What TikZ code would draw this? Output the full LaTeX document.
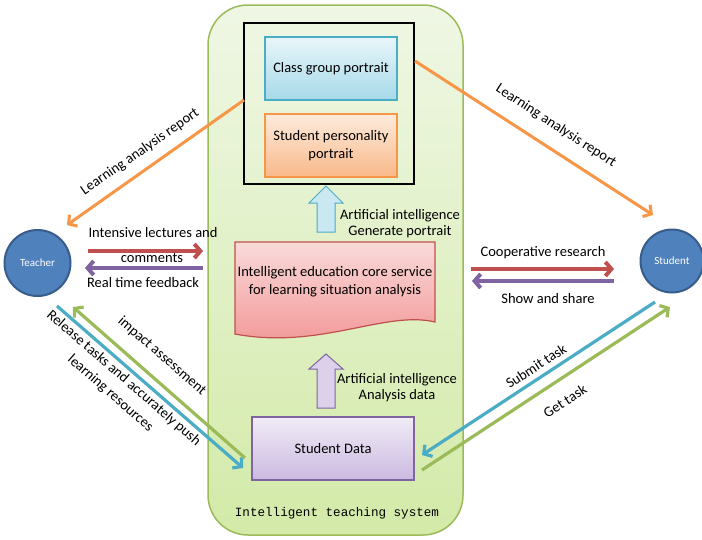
\documentclass[tikz,border=0pt]{standalone}
\usepackage{fontspec}
\setmainfont{Carlito}
\newfontfamily\monofont{Liberation Mono}
\usetikzlibrary{arrows.meta}

\definecolor{sysborder}{HTML}{9BBB59}
\definecolor{systop}{HTML}{EFF7E5}
\definecolor{sysbot}{HTML}{D3EAA8}
\definecolor{clsborder}{HTML}{4BACC6}
\definecolor{clstop}{HTML}{E9F6FA}
\definecolor{clsbot}{HTML}{A6D9E9}
\definecolor{perborder}{HTML}{F79646}
\definecolor{pertop}{HTML}{FDEBDC}
\definecolor{perbot}{HTML}{F9B98A}
\definecolor{docborder}{HTML}{C0504D}
\definecolor{doctop}{HTML}{FADADA}
\definecolor{docbot}{HTML}{F29494}
\definecolor{datborder}{HTML}{8064A2}
\definecolor{dattop}{HTML}{F1ECF7}
\definecolor{datbot}{HTML}{CBB9E0}
\definecolor{roleFill}{HTML}{4F81BD}
\definecolor{roleBorder}{HTML}{385D8A}
\definecolor{arrRed}{HTML}{C0504D}
\definecolor{arrPurple}{HTML}{8064A2}
\definecolor{arrOrange}{HTML}{F79646}
\definecolor{arrBlue}{HTML}{4BACC6}
\definecolor{arrGreen}{HTML}{9BBB59}
\definecolor{upBlueFill}{HTML}{C9E8F2}
\definecolor{upPurpleFill}{HTML}{DCD0EB}

\tikzset{
  lbl/.style={font=\fontsize{14.5}{18}\selectfont, inner sep=1pt, align=center, text=black},
  boxbase/.style={draw, line width=1.2pt, inner sep=2pt, align=center,
    font=\fontsize{14.5}{18}\selectfont, text=black},
  clsbox/.style={boxbase, draw=clsborder, top color=clstop, bottom color=clsbot},
  perbox/.style={boxbase, draw=perborder, top color=pertop, bottom color=perbot},
  datbox/.style={boxbase, draw=datborder, top color=dattop, bottom color=datbot},
  role/.style={circle, draw=roleBorder, line width=2pt, fill=roleFill, text=white,
    font=\fontsize{11}{13}\selectfont, inner sep=0pt},
  tip/.style={-{Straight Barb[length=6pt,width=14pt]}},
  flow/.style={line width=4pt, tip},
  diag/.style={line width=3.2pt, tip},
}

\begin{document}
\begin{tikzpicture}[x=1pt,y=-1pt]
\useasboundingbox (0,0) rectangle (702,539);

% intelligent teaching system container
\node[draw=sysborder, line width=1.5pt, rounded corners=40pt,
      top color=systop, bottom color=sysbot,
      minimum width=255pt, minimum height=530pt, inner sep=0pt] (system) at (335.5,270) {};
\node[font=\monofont\fontsize{12.6}{14}\selectfont, text=black] (systitle) at (337,513) {Intelligent teaching system};

% portrait frame with its two portraits
\node[draw=black, line width=2pt, minimum width=170pt, minimum height=161pt, inner sep=0pt] (frame) at (329,103.5) {};
\node[clsbox, minimum width=132pt, minimum height=63pt] (cls) at (331,68.5) {Class group portrait};
\node[perbox, minimum width=132pt, minimum height=63pt] (per) at (331,145.5) {Student personality\\portrait};

% block arrow: portrait generation
\draw[draw=clsborder, fill=upBlueFill, line width=1pt]
  (326,186) -- (343,203) -- (335,203) -- (335,232) -- (317,232) -- (317,203) -- (309,203) -- cycle;
\node[lbl] (genlbl) at (400,224) {Artificial intelligence\\[-2pt]Generate portrait};

% core service document
\draw[draw=docborder, line width=1.2pt, top color=doctop, bottom color=docbot]
  (235,242) -- (435,242) -- (435,322)
  .. controls (385,310) and (320,350) .. (235,334) -- cycle;
\node[lbl] (core) at (335,282) {Intelligent education core service\\for learning situation analysis};

% block arrow: data analysis
\draw[draw=datborder, fill=upPurpleFill, line width=1pt]
  (326,354) -- (343,369) -- (335,369) -- (335,408) -- (317,408) -- (317,369) -- (309,369) -- cycle;
\node[lbl] (analbl) at (397,388) {Artificial intelligence\\[-2pt]Analysis data};

% student data
\node[datbox, minimum width=162pt, minimum height=63pt] (data) at (333,448.5) {Student Data};

% roles
\node[role, minimum size=66pt] (teacher) at (37.5,263) {Teacher};
\node[role, minimum size=63pt] (student) at (672,261) {Student};

% arrow end points
\coordinate (frL) at (244,100);
\coordinate (frR) at (415,61);
\coordinate (tOr) at (67,225);
\coordinate (sOr) at (653,215);
\coordinate (tA) at (88,251);
\coordinate (cA) at (203,251);
\coordinate (cB) at (203,268);
\coordinate (tB) at (85,268);
\coordinate (cC) at (471,269);
\coordinate (sC) at (614,269);
\coordinate (sD) at (614,281);
\coordinate (cD) at (472,281);
\coordinate (tBl) at (57,306);
\coordinate (dBl) at (243,468);
\coordinate (dGr) at (245,458);
\coordinate (tGr) at (73,307);
\coordinate (sBl) at (655,302);
\coordinate (dBr) at (422,455);
\coordinate (dGr2) at (422,470);
\coordinate (sGr) at (670,307);

% learning analysis reports
\draw[arrOrange, line width=3pt, tip] (frL) -- (tOr);
\draw[arrOrange, line width=3pt, tip] (frR) -- (sOr);
\node[lbl, rotate=35] (repL) at (140,152) {Learning analysis report};
\node[lbl, rotate=-33] (repR) at (556,126) {Learning analysis report};

% teacher <-> core service
\draw[arrRed, flow] (tA) -- (cA);
\draw[arrPurple, flow] (cB) -- (tB);
\node[lbl] (lect1) at (153,233) {Intensive lectures and};
\node[lbl] (lect2) at (152,258) {comments};
\node[lbl] (fb) at (143,283) {Real time feedback};

% core service <-> student
\draw[arrRed, flow] (cC) -- (sC);
\draw[arrPurple, flow] (sD) -- (cD);
\node[lbl] (coop) at (543,253) {Cooperative research};
\node[lbl] (share) at (548,299) {Show and share};

% teacher <-> student data
\draw[arrBlue, diag] (tBl) -- (dBl);
\draw[arrGreen, diag] (dGr) -- (tGr);
\node[lbl, rotate=-41] (release) at (117,386) {Release tasks and accurately push\\[2pt]learning resources};
\node[lbl, rotate=-41] (impact) at (162,356) {impact assessment};

% student <-> student data
\draw[arrBlue, diag] (sBl) -- (dBr);
\draw[arrGreen, diag] (dGr2) -- (sGr);
\node[lbl, rotate=33] (submit) at (536,366) {Submit task};
\node[lbl, rotate=33] (gettask) at (565,401) {Get task};
\end{tikzpicture}
\end{document}
